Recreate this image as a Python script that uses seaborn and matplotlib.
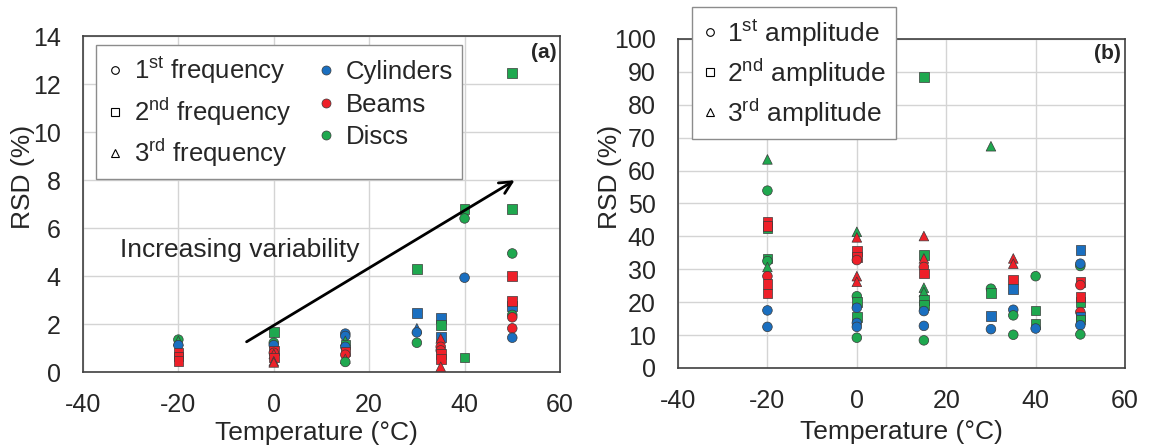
"""
RSD vs temperature for frequencies (a) and amplitudes (b)
"""
import pandas as pd
import matplotlib
matplotlib.use('Agg')
import matplotlib.pyplot as plt
from matplotlib.lines import Line2D
import seaborn as sns

sns.set_style("whitegrid")
plt.rcParams['font.family'] = ['Liberation Sans', 'DejaVu Sans']
plt.rcParams['mathtext.fontset'] = 'custom'
plt.rcParams['mathtext.rm'] = 'Liberation Sans'
plt.rcParams['axes.unicode_minus'] = False
plt.rcParams['axes.edgecolor'] = '0.25'
plt.rcParams['grid.color'] = '#d4d4d4'

# ---- data (a): frequencies ----
temp_a = [-20, -20, -20, -20, -20, -20,
          0, 0, 0, 0, 0, 0, 0, 0, 0,
          15, 15, 15, 15, 15, 15, 15, 15, 15,
          30, 30, 30, 30, 30,
          35, 35, 35, 35, 35, 35, 35, 35, 35,
          40, 40, 40, 40,
          50, 50, 50, 50, 50, 50, 50, 50, 50, 50]
rsd_a = [1.35, 1.30, 1.12, 0.80, 0.65, 0.45,
         1.68, 1.22, 1.12, 0.90, 0.80, 0.75, 0.60, 0.45, 0.40,
         1.60, 1.50, 1.30, 1.15, 1.05, 0.85, 0.72, 0.55, 0.42,
         4.28, 2.47, 1.82, 1.65, 1.22,
         2.26, 1.96, 1.47, 1.40, 1.05, 0.90, 0.75, 0.55, 0.22,
         6.78, 6.40, 3.93, 0.60,
         12.45, 6.78, 4.94, 4.00, 2.75, 2.96, 2.38, 2.28, 1.82, 1.43]
mode_a = [1, 3, 1, 2, 2, 2,
          2, 1, 1, 2, 1, 3, 2, 3, 3,
          1, 1, 3, 2, 1, 2, 1, 3, 1,
          2, 2, 3, 1, 1,
          2, 2, 2, 3, 1, 1, 2, 2, 3,
          2, 1, 1, 2,
          2, 2, 1, 2, 2, 2, 1, 1, 1, 1]
mat_a = ['D', 'D', 'C', 'B', 'B', 'B',
         'D', 'D', 'C', 'B', 'B', 'B', 'B', 'B', 'B',
         'C', 'C', 'D', 'D', 'C', 'B', 'B', 'B', 'D',
         'D', 'C', 'C', 'C', 'D',
         'C', 'D', 'C', 'B', 'B', 'B', 'B', 'B', 'B',
         'D', 'D', 'C', 'D',
         'D', 'D', 'D', 'B', 'C', 'B', 'D', 'B', 'B', 'C']

# ---- data (b): amplitudes ----
temp_b = [-20] * 13 + [0] * 14 + [15] * 13 + [30] * 5 + [35] * 7 + [40] * 4 + [50] * 12
rsd_b = [63.4, 53.9, 42.6, 44.4, 43.1, 33.3, 32.5, 30.7, 27.9, 25.5, 22.6, 17.5, 12.5,
         41.4, 39.7, 35.6, 33.8, 32.8, 27.9, 26.2, 21.8, 20.1, 18.3, 15.5, 13.7, 12.5, 9.2,
         88.5, 40.1, 34.3, 33.3, 30.7, 28.7, 24.4, 23.1, 20.6, 19.1, 17.3, 12.8, 8.4,
         67.4, 24.1, 22.8, 15.8, 11.8,
         33.3, 31.7, 26.9, 24.1, 17.7, 16.0, 10.1,
         27.9, 17.5, 13.3, 12.0,
         35.8, 31.0, 31.7, 26.2, 25.2, 20.1, 21.6, 17.0, 15.7, 14.7, 13.0, 10.2]
mode_b = [3, 1, 2, 2, 2, 2, 1, 3, 1, 2, 2, 1, 1,
          3, 3, 2, 2, 1, 3, 3, 1, 2, 1, 2, 1, 1, 1,
          2, 3, 2, 3, 1, 2, 3, 3, 2, 2, 1, 1, 1,
          3, 1, 2, 2, 1,
          3, 3, 2, 2, 1, 1, 1,
          1, 2, 2, 1,
          2, 1, 1, 2, 1, 2, 2, 1, 2, 2, 1, 1]
mat_b = ['D', 'D', 'D', 'B', 'B', 'D', 'D', 'D', 'B', 'B', 'B', 'C', 'C',
         'D', 'B', 'B', 'B', 'B', 'B', 'B', 'D', 'D', 'C', 'D', 'C', 'C', 'D',
         'D', 'B', 'D', 'B', 'B', 'B', 'D', 'D', 'D', 'D', 'C', 'C', 'D',
         'D', 'D', 'D', 'C', 'C',
         'B', 'B', 'B', 'C', 'C', 'D', 'D',
         'D', 'D', 'D', 'C',
         'C', 'D', 'C', 'B', 'B', 'D', 'B', 'B', 'C', 'D', 'C', 'D']

materials = {'C': 'Cylinders', 'B': 'Beams', 'D': 'Discs'}
colors = {'Cylinders': '#1a6fc0', 'Beams': '#ee2029', 'Discs': '#1fa84f'}
markers = {1: 'o', 2: 's', 3: '^'}
sup = {1: 'st', 2: 'nd', 3: 'rd'}


def make_df(temp, rsd, mode, mat):
    return pd.DataFrame({'T': temp, 'RSD': rsd, 'mode': mode,
                         'material': [materials[m] for m in mat]})


df_a = make_df(temp_a, rsd_a, mode_a, mat_a)
df_b = make_df(temp_b, rsd_b, mode_b, mat_b)

fig = plt.figure(figsize=(11.62, 4.48), dpi=100)
ax1 = fig.add_axes([0.0714, 0.1696, 0.4105, 0.75])
ax2 = fig.add_axes([0.5835, 0.1786, 0.3847, 0.7344])

for ax, df in ((ax1, df_a), (ax2, df_b)):
    sns.scatterplot(data=df, x='T', y='RSD', hue='material', style='mode',
                    palette=colors, markers=markers, s=48, edgecolor='#3a3a3a',
                    linewidth=0.5, legend=False, ax=ax, zorder=3)
    ax.set_xlim(-40, 60)
    ax.set_xticks(range(-40, 61, 20))
    ax.set_xlabel('Temperature (°C)', fontsize=19, va='top')
    ax.set_ylabel('RSD (%)', fontsize=19, va='center')
    ax.tick_params(labelsize=18, direction='in', length=4, color='0.25')
    ax.tick_params(axis='x', pad=15)
    ax.tick_params(axis='y', pad=16)
    ax.grid(True, linewidth=1)
    for s in ax.spines.values():
        s.set_linewidth(1.2)

ax1.set_ylim(0, 14)
ax1.set_yticks(range(0, 15, 2))
ax2.set_ylim(0, 100)
ax2.set_yticks(range(0, 101, 10))

ax1.yaxis.set_label_coords(-0.125, 0.58)
ax2.yaxis.set_label_coords(-0.152, 0.58)
ax1.xaxis.set_label_coords(0.49, -0.145)
ax2.xaxis.set_label_coords(0.5, -0.158)

# arrow + annotation
ax1.annotate('', xy=(51, 8.05), xytext=(-6.2, 1.2),
             arrowprops=dict(arrowstyle='->', color='black', lw=2, mutation_scale=22))
ax1.text(-32.3, 5.1, 'Increasing variability', fontsize=19, va='center', ha='left')

ax1.text(0.993, 0.95, '(a)', transform=ax1.transAxes, fontsize=15,
         fontweight='bold', ha='right', va='center')
ax2.text(0.99, 0.957, '(b)', transform=ax2.transAxes, fontsize=15,
         fontweight='bold', ha='right', va='center')


def mode_handle(k):
    return Line2D([], [], ls='', marker=markers[k], mfc='white', mec='black',
                  ms=5.5, mew=0.8)


def mat_handle(name):
    return Line2D([], [], ls='', marker='o', mfc=colors[name], mec='#3a3a3a',
                  ms=6.5, mew=0.5)


h_a = [mode_handle(k) for k in (1, 2, 3)] + [mat_handle(n) for n in colors]
l_a = [f'{k}$^{{\\mathrm{{{sup[k]}}}}}$ frequency' for k in (1, 2, 3)] + list(colors)
leg1 = ax1.legend(h_a, l_a, ncol=2, loc='upper left', bbox_to_anchor=(0.027, 0.973),
                  fontsize=18.5, frameon=True, fancybox=False, framealpha=1,
                  edgecolor='0.55', labelspacing=0.33, handletextpad=0.4,
                  columnspacing=1.0, borderpad=0.38, handlelength=0.7,
                  borderaxespad=0)
leg1.get_frame().set_linewidth(1)

h_b = [mode_handle(k) for k in (1, 2, 3)]
l_b = [f'{k}$^{{\\mathrm{{{sup[k]}}}}}$ amplitude' for k in (1, 2, 3)]
leg2 = ax2.legend(h_b, l_b, loc='upper left', bbox_to_anchor=(0.031, 1.097),
                  fontsize=19, frameon=True, fancybox=False, framealpha=1,
                  edgecolor='0.55', labelspacing=0.27, handletextpad=0.35,
                  borderpad=0.38, handlelength=0.6, borderaxespad=0)
leg2.get_frame().set_linewidth(1)

fig.savefig('out.png', dpi=100)
